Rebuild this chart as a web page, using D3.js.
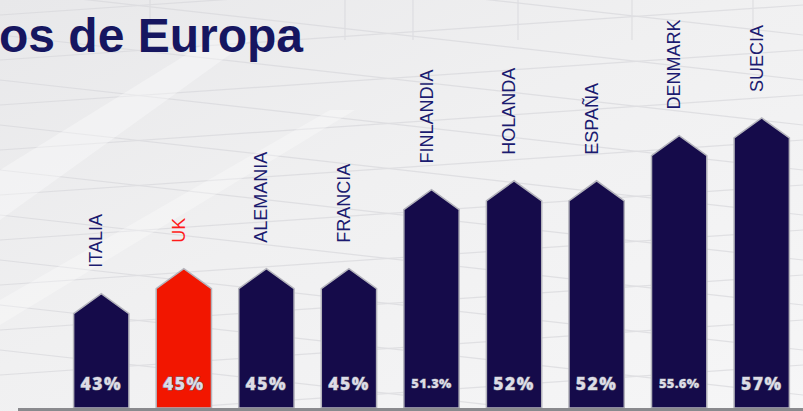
<!DOCTYPE html>
<html>
<head>
<meta charset="utf-8">
<script src="https://cdn.jsdelivr.net/npm/d3@7"></script>
<style>
  html, body { margin: 0; padding: 0; overflow: hidden; background: #f2f2f3; }
  svg { display: block; }
</style>
</head>
<body>
<svg id="chart" width="803" height="411"></svg>
<script>
// datos
const paises = ["ITALIA", "UK", "ALEMANIA", "FRANCIA", "FINLANDIA", "HOLANDA", "ESPAÑA", "DENMARK", "SUECIA"];
const valores = [43, 45, 45, 45, 51.3, 52, 52, 55.6, 57];
const etiquetas = ["43%", "45%", "45%", "45%", "51.3%", "52%", "52%", "55.6%", "57%"];
const destacado = "UK";
const titulo = "os de Europa";

const W = 803, H = 411, base = 408, punta = 20;

const svg = d3.select("#chart");

// fondo
const defs = svg.append("defs");
const g1 = defs.append("linearGradient").attr("id", "fondo").attr("x1", 0).attr("y1", 0).attr("x2", 1).attr("y2", 1);
g1.append("stop").attr("offset", "0%").attr("stop-color", "#e8e8ea");
g1.append("stop").attr("offset", "45%").attr("stop-color", "#f0f0f1");
g1.append("stop").attr("offset", "100%").attr("stop-color", "#f6f6f7");
svg.append("rect").attr("width", W).attr("height", H).attr("fill", "url(#fondo)");

// rejilla decorativa en perspectiva
const deco = svg.append("g").attr("stroke", "#d8d8dc").attr("stroke-width", 1.2).attr("fill", "none").attr("opacity", 0.7);
[413, 518, 632, 753, 150, 345].forEach(xx => {
  deco.append("line").attr("x1", xx).attr("y1", 0).attr("x2", xx).attr("y2", 40);
});
d3.range(-1, 9).forEach(k => {
  const y0 = 20 + k * 45;
  deco.append("line").attr("x1", 0).attr("y1", y0 + 40).attr("x2", W).attr("y2", y0 - 15);
  deco.append("line").attr("x1", 0).attr("y1", y0 - 30).attr("x2", W).attr("y2", y0 + 60);
});
svg.append("path")
  .attr("d", "M0,170 L210,40 L250,40 L0,220 Z")
  .attr("fill", "#ffffff").attr("opacity", 0.35);
svg.append("path")
  .attr("d", "M0,300 L330,110 L355,110 L0,325 Z")
  .attr("fill", "#ffffff").attr("opacity", 0.3);

// titulo
svg.append("text")
  .attr("x", -1).attr("y", 52)
  .attr("font-family", "Liberation Sans, Arial, sans-serif")
  .attr("font-weight", "bold")
  .attr("font-size", 48)
  .attr("fill", "#161660")
  .text(titulo);

// escalas
const x = d3.scaleBand().domain(paises).range([60, W]).paddingInner(0.33).paddingOuter(0.165);
const y = d3.scaleLinear().domain([33.9, 57]).range([base, 118]);

function casa(d, i) {
  const x0 = x(d), w = x.bandwidth(), top = y(valores[i]);
  return "M" + x0 + "," + base + "V" + (top + punta) + "L" + (x0 + w / 2) + "," + top +
    "L" + (x0 + w) + "," + (top + punta) + "V" + base + "Z";
}

// barras
svg.append("g").selectAll("path")
  .data(paises)
  .enter()
  .append("path")
  .attr("d", casa)
  .attr("fill", d => d === destacado ? "#f21600" : "#150b4a")
  .attr("stroke", "#b4b4bc")
  .attr("stroke-width", 1.5);

// linea base
svg.append("line")
  .attr("x1", 18).attr("x2", W).attr("y1", 409.5).attr("y2", 409.5)
  .attr("stroke", "#8a8a8e").attr("stroke-width", 3);

// valores
svg.append("g").selectAll("text")
  .data(etiquetas)
  .enter()
  .append("text")
  .attr("x", (d, i) => x(paises[i]) + x.bandwidth() / 2)
  .attr("y", d => d.length > 3 ? 388 : 389.5)
  .attr("text-anchor", "middle")
  .attr("font-family", "Open Sans, Lato, sans-serif")
  .attr("font-weight", 800)
  .attr("font-size", d => d.length > 3 ? 13 : 17.5)
  .attr("letter-spacing", d => d.length > 3 ? 0.3 : 1.5)
  .attr("fill", "#dcdce6")
  .attr("stroke", "#6e6e80")
  .attr("stroke-width", 0.8)
  .attr("paint-order", "stroke")
  .text(d => d);

// nombres de paises
svg.append("g").selectAll("text")
  .data(paises)
  .enter()
  .append("text")
  .attr("transform", (d, i) => "translate(" + (x(d) + x.bandwidth() / 2 + 1) + "," + (y(valores[i]) - 26) + ") rotate(-90)")
  .attr("font-family", "Liberation Sans, Arial, sans-serif")
  .attr("font-size", 18)
  .attr("fill", d => d === destacado ? "#ff1a1a" : "#1b1b70")
  .text(d => d);
</script>
</body>
</html>
